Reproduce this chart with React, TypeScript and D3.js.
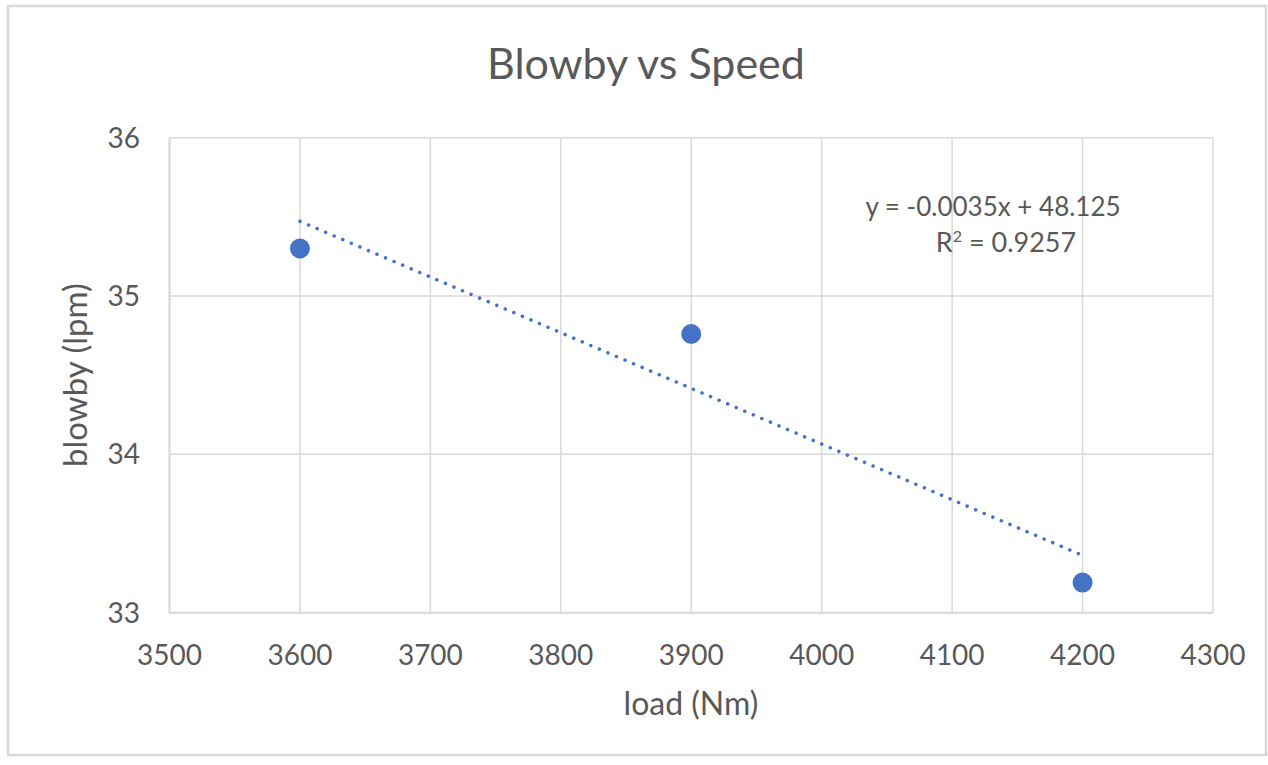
import React from "react";
import * as d3 from "d3";

const loads = [3600, 3900, 4200];
const blowby = [35.3, 34.76, 33.19];
const xTicks = [3500, 3600, 3700, 3800, 3900, 4000, 4100, 4200, 4300];
const yTicks = [33, 34, 35, 36];
const title = "Blowby vs Speed";
const xLabel = "load (Nm)";
const yLabel = "blowby (lpm)";
const eqLine1 = "y = -0.0035x + 48.125";
const eqLine2Value = " = 0.9257";

const W = 1268;
const H = 765;
const M = { left: 169.5, right: 1213, top: 137.7, bottom: 612.7 };
const FONT = "Lato, 'Open Sans', sans-serif";
const TEXT = "#595959";
const GRID = "#d9d9d9";
const BLUE = "#4472c4";

export default function App() {
  const x = d3.scaleLinear().domain([3500, 4300]).range([M.left, M.right]);
  const y = d3.scaleLinear().domain([33, 36]).range([M.bottom, M.top]);

  const mx = d3.mean(loads)!;
  const my = d3.mean(blowby)!;
  const slope =
    d3.sum(loads.map((v, i) => (v - mx) * (blowby[i] - my))) /
    d3.sum(loads.map((v) => (v - mx) * (v - mx)));
  const intercept = my - slope * mx;
  const xMin = d3.min(loads)!;
  const xMax = d3.max(loads)!;
  const trend = d3
    .line<number>()
    .x((d) => x(d))
    .y((d) => y(slope * d + intercept))([xMin, xMax]);

  return (
    <svg
      width={W}
      height={H}
      style={{ position: "absolute", left: 0, top: 0, background: "#fff" }}
      fontFamily={FONT}
    >
      <rect x={8} y={6} width={1258} height={749} fill="#fff" stroke={GRID} strokeWidth={2.5} />
      <text x={646} y={79} textAnchor="middle" fontSize={43} fill={TEXT}>
        {title}
      </text>
      {xTicks.map((t) => (
        <line key={"gx" + t} x1={x(t)} x2={x(t)} y1={M.top} y2={M.bottom} stroke={GRID} strokeWidth={1.5} />
      ))}
      {yTicks.map((t) => (
        <line key={"gy" + t} x1={M.left} x2={M.right} y1={y(t)} y2={y(t)} stroke={GRID} strokeWidth={1.5} />
      ))}
      <line x1={M.left} x2={M.right} y1={M.bottom} y2={M.bottom} stroke={GRID} strokeWidth={2} />
      <line x1={M.left} x2={M.left} y1={M.top} y2={M.bottom} stroke={GRID} strokeWidth={2} />
      {xTicks.map((t) => (
        <text key={"tx" + t} x={x(t)} y={665} textAnchor="middle" fontSize={28} fill={TEXT}>
          {t}
        </text>
      ))}
      {yTicks.map((t) => (
        <text key={"ty" + t} x={140} y={y(t) + 10} textAnchor="end" fontSize={28} fill={TEXT}>
          {t}
        </text>
      ))}
      <text x={691} y={715} textAnchor="middle" fontSize={32} fill={TEXT}>
        {xLabel}
      </text>
      <text
        transform={`translate(87,375) rotate(-90)`}
        textAnchor="middle"
        fontSize={33}
        fill={TEXT}
      >
        {yLabel}
      </text>
      <path
        d={trend ?? ""}
        fill="none"
        stroke={BLUE}
        strokeWidth={3.5}
        strokeLinecap="round"
        strokeDasharray="0.1 9.2"
      />
      {loads.map((l, i) => (
        <circle key={"p" + l} cx={x(l)} cy={y(blowby[i])} r={10} fill={BLUE} />
      ))}
      <text x={993} y={216} textAnchor="middle" fontSize={26} fill={TEXT}>
        {eqLine1}
      </text>
      <text x={1006} y={252} textAnchor="middle" fontSize={27} fill={TEXT}>
        R<tspan dy={-10} fontSize={16}>2</tspan>
        <tspan dy={10}>{eqLine2Value}</tspan>
      </text>
    </svg>
  );
}
